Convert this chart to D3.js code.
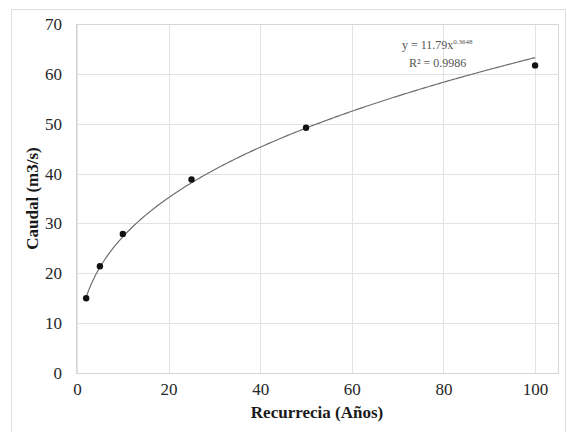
<!DOCTYPE html>
<html>
<head>
<meta charset="utf-8">
<script src="https://cdn.jsdelivr.net/npm/d3@7"></script>
<style>
  body { margin: 0; background: #fff; }
</style>
</head>
<body>
<svg id="chart" width="567" height="432" font-family="Liberation Serif, serif"></svg>
<script>
// Return periods (years) and peak flows (m3/s).
var recurrence = [2, 5, 10, 25, 50, 100];
var caudal = [15.0, 21.4, 27.9, 38.8, 49.2, 61.7];

// Power trendline shown on the chart: y = a * x^b
var trendCoef = [11.79, 0.3648];
var trendLabels = ['y = 11.79x', '0.3648', 'R² = 0.9986'];

var xTicks = [0, 20, 40, 60, 80, 100];
var yTicks = [0, 10, 20, 30, 40, 50, 60, 70];

var FONT = 'Liberation Serif';

var svg = d3.select('#chart');
var margin = {left: 76, right: 9, top: 24, bottom: 59};
var width = 567 - margin.left - margin.right;
var height = 432 - margin.top - margin.bottom;

// outer frame
svg.append('rect')
  .attr('x', 11.5).attr('y', 9.5)
  .attr('width', 554).attr('height', 430)
  .attr('fill', 'none').attr('stroke', '#dedede');

var g = svg.append('g')
  .attr('transform', 'translate(' + margin.left + ',' + margin.top + ')');

var x = d3.scaleLinear().domain([0, 105]).range([1, width]);
var y = d3.scaleLinear().domain([0, 70]).range([height, 0]);

// grid lines
g.append('g').selectAll('line').data(yTicks).enter().append('line')
  .attr('x1', 0).attr('x2', width)
  .attr('y1', function(d) { return Math.round(y(d)) + 0.5; })
  .attr('y2', function(d) { return Math.round(y(d)) + 0.5; })
  .attr('stroke', '#e2e2e2');
g.append('g').selectAll('line').data(xTicks).enter().append('line')
  .attr('y1', 0).attr('y2', height)
  .attr('x1', function(d) { return Math.round(x(d)) + 0.5; })
  .attr('x2', function(d) { return Math.round(x(d)) + 0.5; })
  .attr('stroke', '#e2e2e2');

// plot border
g.append('rect')
  .attr('x', 0.5).attr('y', 0.5)
  .attr('width', width).attr('height', height)
  .attr('fill', 'none').attr('stroke', '#d6d6d6');

// axes
var yAxis = g.append('g')
  .call(d3.axisLeft(y).tickValues(yTicks).tickSize(0).tickPadding(14));
var xAxis = g.append('g')
  .attr('transform', 'translate(0,' + height + ')')
  .call(d3.axisBottom(x).tickValues(xTicks).tickSize(0).tickPadding(10));
[xAxis, yAxis].forEach(function(a) {
  a.attr('font-family', FONT).attr('font-size', 17);
  a.select('.domain').remove();
  a.selectAll('text')
    .attr('font-family', FONT)
    .attr('font-size', 17)
    .attr('fill', '#262626');
});

// trendline
var trendPoints = d3.range(2, 100.01, 0.5).map(function(v) {
  return [v, trendCoef[0] * Math.pow(v, trendCoef[1])];
});
g.append('path')
  .datum(trendPoints)
  .attr('fill', 'none')
  .attr('stroke', '#6e6e6e')
  .attr('stroke-width', 1.2)
  .attr('d', d3.line()
    .x(function(d) { return x(d[0]); })
    .y(function(d) { return y(d[1]); }));

// data points
g.append('g').selectAll('circle').data(recurrence).enter().append('circle')
  .attr('cx', function(d) { return x(d); })
  .attr('cy', function(d, i) { return y(caudal[i]); })
  .attr('r', 3.2)
  .attr('fill', '#111');

// equation label
var eq = svg.append('text')
  .attr('x', 402).attr('y', 49)
  .attr('font-family', FONT)
  .attr('font-size', 12)
  .attr('fill', '#555');
eq.append('tspan').text(trendLabels[0]);
eq.append('tspan').attr('dy', -5).attr('font-size', 7).text(trendLabels[1]);
svg.append('text')
  .attr('x', 409).attr('y', 67)
  .attr('font-family', FONT)
  .attr('font-size', 12)
  .attr('fill', '#555')
  .text(trendLabels[2]);

// axis titles
svg.append('text')
  .attr('x', margin.left + width / 2).attr('y', 418)
  .attr('text-anchor', 'middle')
  .attr('font-family', FONT)
  .attr('font-weight', 'bold')
  .attr('font-size', 17)
  .attr('fill', '#1a1a1a')
  .text('Recurrecia (Años)');
svg.append('text')
  .attr('transform', 'translate(38,' + (margin.top + height / 2) + ') rotate(-90)')
  .attr('text-anchor', 'middle')
  .attr('font-family', FONT)
  .attr('font-weight', 'bold')
  .attr('font-size', 17)
  .attr('fill', '#1a1a1a')
  .text('Caudal (m3/s)');
</script>
</body>
</html>
